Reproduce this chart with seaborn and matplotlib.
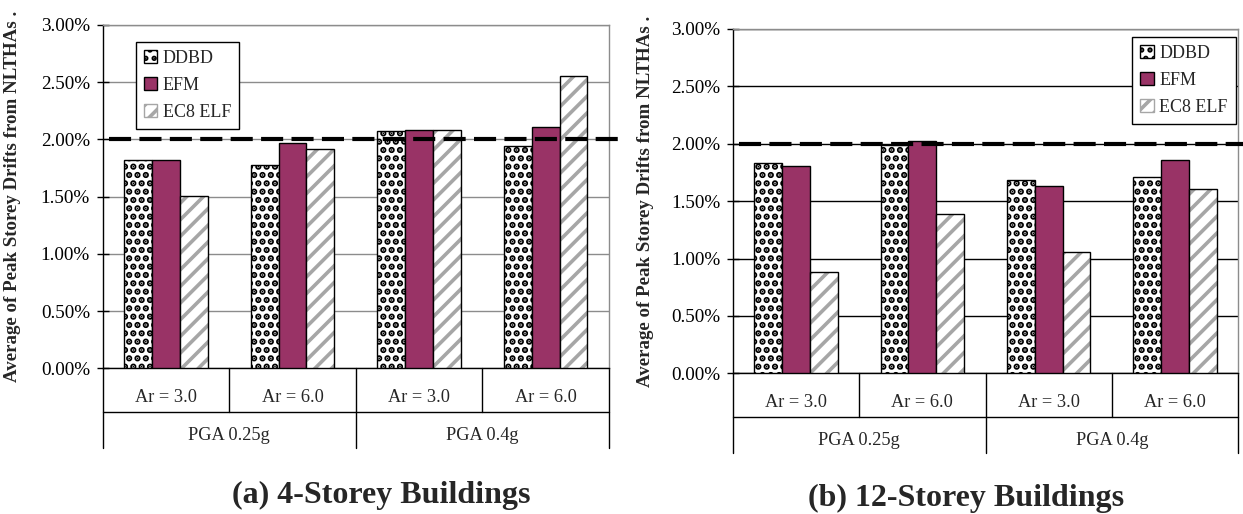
import matplotlib
matplotlib.use("Agg")
import matplotlib.pyplot as plt
from matplotlib.patches import Patch, Rectangle
from matplotlib.ticker import FuncFormatter, MultipleLocator
import numpy as np
import pandas as pd
import seaborn as sns

# ---- data -------------------------------------------------------------
methods = ["DDBD", "EFM", "EC8 ELF"]
aspect_labels = ["Ar = 3.0", "Ar = 6.0", "Ar = 3.0", "Ar = 6.0"]
pga_labels = ["PGA 0.25g", "PGA 0.4g"]
panel_titles = ["(a) 4-Storey Buildings", "(b) 12-Storey Buildings"]
ylabel_text = "Average of Peak Storey Drifts from NLTHAs ."

# average peak storey drift (%) per case
ddbd_4 = [1.82, 1.78, 2.07, 1.94]
efm_4 = [1.82, 1.97, 2.08, 2.11]
ec8_4 = [1.51, 1.92, 2.08, 2.55]

ddbd_12 = [1.83, 1.99, 1.68, 1.71]
efm_12 = [1.81, 2.02, 1.63, 1.86]
ec8_12 = [0.88, 1.385, 1.06, 1.61]

drift_limit = 2.0

# ---- style ------------------------------------------------------------
sns.set_theme(style="white")
plt.rcParams["font.family"] = ["Liberation Serif", "DejaVu Serif"]
plt.rcParams["hatch.linewidth"] = 2.6
plt.rcParams["axes.linewidth"] = 1.0

EFM_COLOR = "#993366"
STRIPE_GRAY = "#a6a6a6"
DOT_HATCH = ".."
DOT_LW = 3.2


def set_hatch_lw(patch, lw):
    if hasattr(patch, "set_hatch_linewidth"):
        patch.set_hatch_linewidth(lw)
    else:
        patch._hatch_linewidth = lw


def build_frame(ddbd, efm, ec8):
    rows = []
    for i in range(len(aspect_labels)):
        for m, vals in zip(methods, (ddbd, efm, ec8)):
            rows.append({"case": i, "method": m, "drift": vals[i]})
    return pd.DataFrame(rows)


def draw_panel(ax, df, grid_color, legend_anchor, label_x):
    sns.barplot(data=df, x="case", y="drift", hue="method", hue_order=methods,
                palette=["white", EFM_COLOR, "white"], width=0.66,
                saturation=1, legend=False, ax=ax, zorder=3)

    for method, cont in zip(methods, ax.containers):
        for bar in cont:
            if method == "DDBD":
                bar.set_facecolor("white")
                bar.set_edgecolor("black")
                bar.set_hatch(DOT_HATCH)
                set_hatch_lw(bar, DOT_LW)
                bar.set_linewidth(1.0)
            elif method == "EFM":
                bar.set_facecolor(EFM_COLOR)
                bar.set_edgecolor("black")
                bar.set_linewidth(1.0)
            else:
                bar.set_facecolor("white")
                bar.set_edgecolor(STRIPE_GRAY)
                bar.set_hatch("//")
                bar.set_linewidth(0)
                ax.add_patch(Rectangle((bar.get_x(), bar.get_y()), bar.get_width(),
                                       bar.get_height(), fill=False,
                                       edgecolor="black", linewidth=1.0, zorder=4))

    ax.set_xlim(-0.5, 3.5)
    ax.set_ylim(0, 3.0)
    ax.yaxis.set_major_locator(MultipleLocator(0.5))
    ax.yaxis.set_major_formatter(FuncFormatter(lambda v, p: f"{v:.2f}%"))
    ax.grid(axis="y", color=grid_color, linewidth=1.0, zorder=0)
    ax.set_axisbelow(True)
    ax.tick_params(axis="y", direction="inout", length=8, width=1, pad=5,
                   labelsize=13.8, colors="black", left=True)
    ax.tick_params(axis="x", bottom=False, labelbottom=False)
    ax.set_xlabel("")
    ax.set_ylabel(ylabel_text, fontsize=13.6, fontweight="bold")
    ax.yaxis.set_label_coords(label_x, 0.5)

    for side in ("top", "right"):
        ax.spines[side].set_color("#8c8c8c")
    for side in ("left", "bottom"):
        ax.spines[side].set_color("black")

    # design drift limit
    ax.plot([-0.45, 3.57], [drift_limit, drift_limit], color="black",
            linewidth=3, dashes=(5.3, 2.0), clip_on=False, zorder=6)

    # two-level category axis
    tr = ax.get_xaxis_transform()
    row1, row2 = -0.126, -0.232
    kw = dict(transform=tr, color="black", linewidth=1.0, clip_on=False)
    ax.plot([-0.5, 3.5], [row1, row1], **kw)
    for xb in (-0.5, 1.5, 3.5):
        ax.plot([xb, xb], [0, row2], **kw)
    for xb in (0.5, 2.5):
        ax.plot([xb, xb], [0, row1], **kw)
    for i, lab in enumerate(aspect_labels):
        ax.text(i, -0.084, lab, transform=tr, ha="center", va="center", fontsize=13.2)
    for j, lab in enumerate(pga_labels):
        ax.text(0.5 + 2 * j, -0.195, lab, transform=tr, ha="center",
                va="center", fontsize=13.2)

    dots = Patch(facecolor="white", edgecolor="black", hatch=DOT_HATCH, linewidth=1)
    set_hatch_lw(dots, DOT_LW)
    handles = [
        dots,
        Patch(facecolor=EFM_COLOR, edgecolor="black", linewidth=1),
        Patch(facecolor="white", edgecolor=STRIPE_GRAY, hatch="//", linewidth=1),
    ]
    leg = ax.legend(handles, methods, loc="upper left", bbox_to_anchor=legend_anchor,
                    frameon=True, fancybox=False, edgecolor="black", framealpha=1,
                    fontsize=13, handlelength=0.75, handleheight=0.75,
                    handletextpad=0.3, labelspacing=0.55, borderpad=0.45,
                    borderaxespad=0)
    leg.get_frame().set_linewidth(1.0)
    leg.set_zorder(7)


fig = plt.figure(figsize=(12.43, 5.14), dpi=100)
W, H = 1243.0, 514.0

ax1 = fig.add_axes([102.5 / W, 1 - 368.3 / H, (609 - 102.5) / W, (368.3 - 25) / H])
ax2 = fig.add_axes([733 / W, 1 - 373.3 / H, (1238 - 733) / W, (373.3 - 29) / H])

draw_panel(ax1, build_frame(ddbd_4, efm_4, ec8_4), "#8c8c8c",
           ((135.5 - 102.5) / (609 - 102.5), (368.3 - 42) / (368.3 - 25)), -0.160)
draw_panel(ax2, build_frame(ddbd_12, efm_12, ec8_12), "black",
           ((1132 - 733) / (1238 - 733), (373.3 - 37) / (373.3 - 29)), -0.156)

fig.text(381 / W, 1 - 495 / H, panel_titles[0], ha="center", va="center",
         fontsize=23, fontweight="bold")
fig.text(966 / W, 1 - 498 / H, panel_titles[1], ha="center", va="center",
         fontsize=23, fontweight="bold")

fig.savefig("out.png", dpi=100, facecolor="white")
